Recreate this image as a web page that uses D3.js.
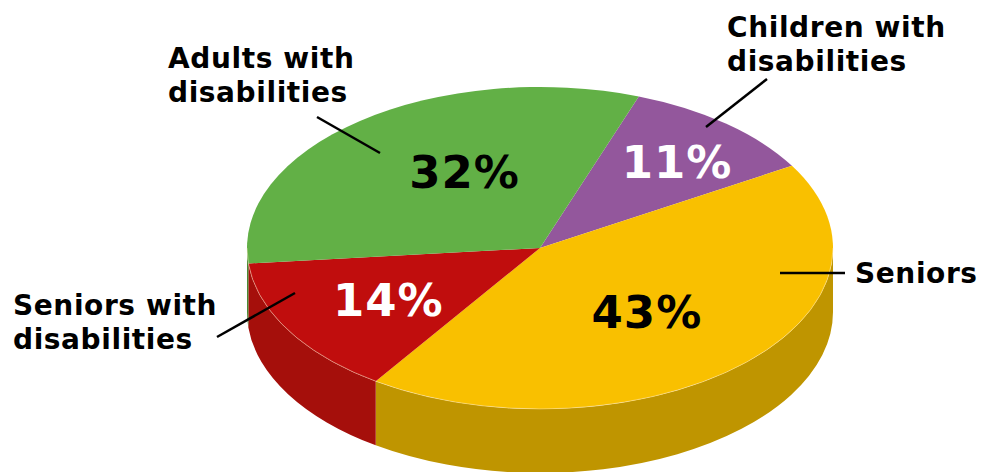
<!DOCTYPE html>
<html>
<head>
<meta charset="utf-8">
<script src="https://cdn.jsdelivr.net/npm/d3@7"></script>
<style>
  body { margin: 0; background: #fff; }
  text { font-family: "DejaVu Sans", Verdana, sans-serif; font-weight: bold; }
</style>
</head>
<body>
<div id="pie3d"></div>
<script>
// data, clockwise from the green/purple edge
const categories = ["Children with disabilities", "Seniors", "Seniors with disabilities", "Adults with disabilities"];
const values = [11, 43, 14, 32];
const topColors = ["#93579c", "#f9c000", "#c00d0d", "#62b046"];
const sideColors = ["#6e3f76", "#bf9500", "#a50f0b", "#4a8a34"];
const pctColors = ["#fff", "#000", "#fff", "#000"];

const width = 981, height = 472;
const cx = 540, cy = 248, rx = 293, ry = 161, depth = 64;

const svg = d3.select("#pie3d")
    .append("svg")
    .attr("width", width)
    .attr("height", height);

// angle measured clockwise from 12 o'clock, as d3.pie does
const pie = d3.pie()
    .sort(null)
    .startAngle(19.7 * Math.PI / 180)
    .endAngle(19.7 * Math.PI / 180 + 2 * Math.PI);
const arcs = pie(values);

function pt(a, f, dy) {
    return [cx + rx * f * Math.sin(a), cy - ry * f * Math.cos(a) + (dy || 0)];
}

function topPath(d) {
    const p0 = pt(d.startAngle, 1), p1 = pt(d.endAngle, 1);
    const large = d.endAngle - d.startAngle > Math.PI ? 1 : 0;
    return `M${cx},${cy}L${p0}A${rx},${ry} 0 ${large} 1 ${p1}Z`;
}

function sidePath(d) {
    // only the front half (90deg..270deg) of the wall is visible
    let parts = [];
    [0, 2 * Math.PI].forEach(off => {
        const b0 = Math.max(d.startAngle, Math.PI / 2 + off);
        const b1 = Math.min(d.endAngle, 3 * Math.PI / 2 + off);
        if (b1 > b0) {
            const t0 = pt(b0, 1), t1 = pt(b1, 1);
            const u0 = pt(b0, 1, depth), u1 = pt(b1, 1, depth);
            parts.push(`M${t0}A${rx},${ry} 0 0 1 ${t1}L${u1}A${rx},${ry} 0 0 0 ${u0}Z`);
        }
    });
    return parts.join("");
}

svg.append("g").selectAll("path")
    .data(arcs)
    .join("path")
    .attr("d", sidePath)
    .attr("fill", (d, i) => sideColors[i]);

svg.append("g").selectAll("path")
    .data(arcs)
    .join("path")
    .attr("d", topPath)
    .attr("fill", (d, i) => topColors[i]);

// faint highlight on the front rim
svg.append("path")
    .attr("d", `M${pt(Math.PI / 2, 1)}A${rx},${ry} 0 0 1 ${pt(3 * Math.PI / 2, 1)}`)
    .attr("fill", "none")
    .attr("stroke", "rgba(255,235,200,0.45)")
    .attr("stroke-width", 1);

// percentage labels
const pctPlace = [
    {f: 0.71, da: 1.7},
    {f: 0.54, da: 0.8},
    {f: 0.61, da: -1.2},
    {f: 0.54, da: 9.4}
];
svg.append("g").selectAll("text")
    .data(arcs)
    .join("text")
    .attr("x", (d, i) => pt((d.startAngle + d.endAngle) / 2 + pctPlace[i].da * Math.PI / 180, pctPlace[i].f)[0])
    .attr("y", (d, i) => pt((d.startAngle + d.endAngle) / 2 + pctPlace[i].da * Math.PI / 180, pctPlace[i].f)[1])
    .attr("dy", "0.36em")
    .attr("text-anchor", "middle")
    .attr("font-size", 45)
    .attr("letter-spacing", 1)
    .attr("fill", (d, i) => pctColors[i])
    .text(d => d.data + "%");

// category callouts
const callouts = [
    {lines: ["Children with", "disabilities"], x: 727, y: 37, from: [767, 79], to: [706, 127]},
    {lines: ["Seniors"], x: 855, y: 283, from: [845, 273], to: [780, 273]},
    {lines: ["Seniors with", "disabilities"], x: 13, y: 315, from: [217, 337], to: [295, 293]},
    {lines: ["Adults with", "disabilities"], x: 168, y: 68, from: [317, 117], to: [380, 153]}
];

callouts.forEach(c => {
    svg.append("line")
        .attr("x1", c.from[0]).attr("y1", c.from[1])
        .attr("x2", c.to[0]).attr("y2", c.to[1])
        .attr("stroke", "#000")
        .attr("stroke-width", 2.5);
    const t = svg.append("text")
        .attr("x", c.x)
        .attr("y", c.y)
        .attr("font-size", 28)
        .attr("letter-spacing", 0.6)
        .attr("fill", "#000");
    c.lines.forEach((l, k) => {
        t.append("tspan")
            .attr("x", c.x)
            .attr("dy", k === 0 ? 0 : 34)
            .text(l);
    });
});
</script>
</body>
</html>
